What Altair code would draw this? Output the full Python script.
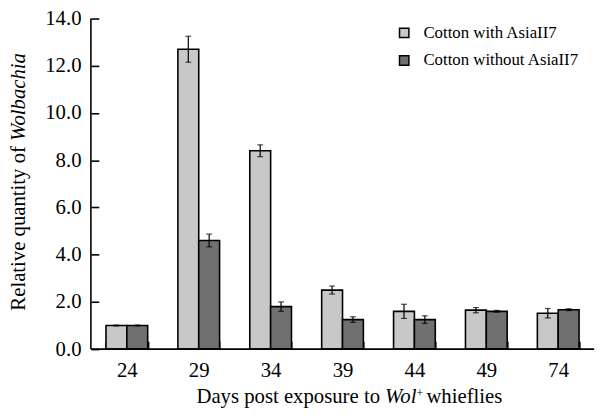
import altair as alt
import pandas as pd

days = ["24", "29", "34", "39", "44", "49", "74"]
groups = ["Cotton with AsiaII7", "Cotton without AsiaII7"]
with_vals = [1.0, 12.7, 8.4, 2.5, 1.6, 1.65, 1.52]
with_err = [0.02, 0.55, 0.25, 0.17, 0.3, 0.11, 0.2]
without_vals = [1.0, 4.6, 1.8, 1.25, 1.25, 1.6, 1.67]
without_err = [0.02, 0.27, 0.2, 0.12, 0.16, 0.04, 0.04]
y_ticks = [0, 2, 4, 6, 8, 10, 12, 14]

rows = []
for d, v, e in zip(days, with_vals, with_err):
    rows.append({"day": d, "group": groups[0], "value": v, "lo": v - e, "hi": v + e})
for d, v, e in zip(days, without_vals, without_err):
    rows.append({"day": d, "group": groups[1], "value": v, "lo": v - e, "hi": v + e})
df = pd.DataFrame(rows)

FONT = "Liberation Serif"
W, H = 510, 335

xscale = alt.Scale(paddingInner=0.42, paddingOuter=0.21)
xaxis = alt.Axis(
    labelAngle=0, domain=False, tickBand="extent", tickSize=8, offset=-8,
    labelPadding=11, title=None, labelFont=FONT, labelFontSize=21,
)
yaxis = alt.Axis(
    values=y_ticks, format=".1f", domain=False, grid=False, tickSize=8,
    offset=-8, labelPadding=10, title=None, labelFont=FONT, labelFontSize=21,
)
xenc = alt.X("day:N", sort=days, scale=xscale, axis=xaxis)
xoff = alt.XOffset("group:N", sort=groups, scale=alt.Scale(paddingInner=0, paddingOuter=0))
yscale = alt.Scale(domain=[0, 14], nice=False)

bars = alt.Chart(df).mark_bar(stroke="black", strokeWidth=1.6).encode(
    x=xenc,
    xOffset=xoff,
    y=alt.Y("value:Q", scale=yscale, axis=yaxis),
    fill=alt.Fill(
        "group:N",
        sort=groups,
        scale=alt.Scale(domain=groups, range=["#c8c8c8", "#707070"]),
        legend=alt.Legend(
            title=None, orient="none", legendX=309, legendY=6, symbolType="square",
            symbolSize=90, symbolStrokeColor="black", symbolStrokeWidth=1.5,
            labelFont=FONT, labelFontSize=17, labelColor="black", rowPadding=10,
            labelOffset=11, padding=0,
        ),
    ),
)

err_rule = alt.Chart(df).mark_rule(color="black", strokeWidth=1.2).encode(
    x=xenc, xOffset=xoff,
    y=alt.Y("lo:Q", scale=yscale, axis=yaxis), y2="hi:Q",
)
cap_hi = alt.Chart(df).mark_tick(color="black", size=6, thickness=1.2).encode(
    x=xenc, xOffset=xoff,
    y=alt.Y("hi:Q", scale=yscale, axis=yaxis),
)
cap_lo = alt.Chart(df).mark_tick(color="black", size=6, thickness=1.2).encode(
    x=xenc, xOffset=xoff,
    y=alt.Y("lo:Q", scale=yscale, axis=yaxis),
)

one = alt.Data(values=[{"a": 1}])
y_domain = alt.Chart(one).mark_rule(color="black", strokeWidth=1.6).encode(x=alt.value(0))
x_domain = alt.Chart(one).mark_rule(color="black", strokeWidth=1.6).encode(y=alt.value(H))

def txt(text, x, y, size=21, italic=False, align="left", angle=0):
    kw = dict(text=text, font=FONT, fontSize=size, color="black", align=align,
              baseline="alphabetic")
    if italic:
        kw["fontStyle"] = "italic"
    if angle:
        kw["angle"] = angle
    return alt.Chart(one).mark_text(**kw).encode(x=alt.value(x), y=alt.value(y))

xt1 = txt("Days post exposure to", 293, 390, align="right")
xt2 = txt("Wol", 298, 390, italic=True)
xt3 = txt("+", 330, 384, size=12)
xt4 = txt("whieflies", 340, 390)
yt1 = txt("Relative quantity of", -67, 296, angle=270)
yt2 = txt("Wolbachia", -67, 124, italic=True, angle=270)

chart = alt.layer(
    bars, err_rule, cap_hi, cap_lo, y_domain, x_domain, xt1, xt2, xt3, xt4, yt1, yt2
).properties(
    width=W, height=H,
    autosize=alt.AutoSizeParams(type="none"),
    padding={"left": 84, "top": 8, "right": 12, "bottom": 58},
).configure(background="white", font=FONT).configure_view(stroke=None).configure_axis(
    labelFont=FONT, labelFontSize=21, labelColor="black", tickColor="black",
    tickWidth=1.6, grid=False,
).configure_text(font=FONT)

chart.save("out.html", embed_options={"renderer": "svg", "actions": False})
